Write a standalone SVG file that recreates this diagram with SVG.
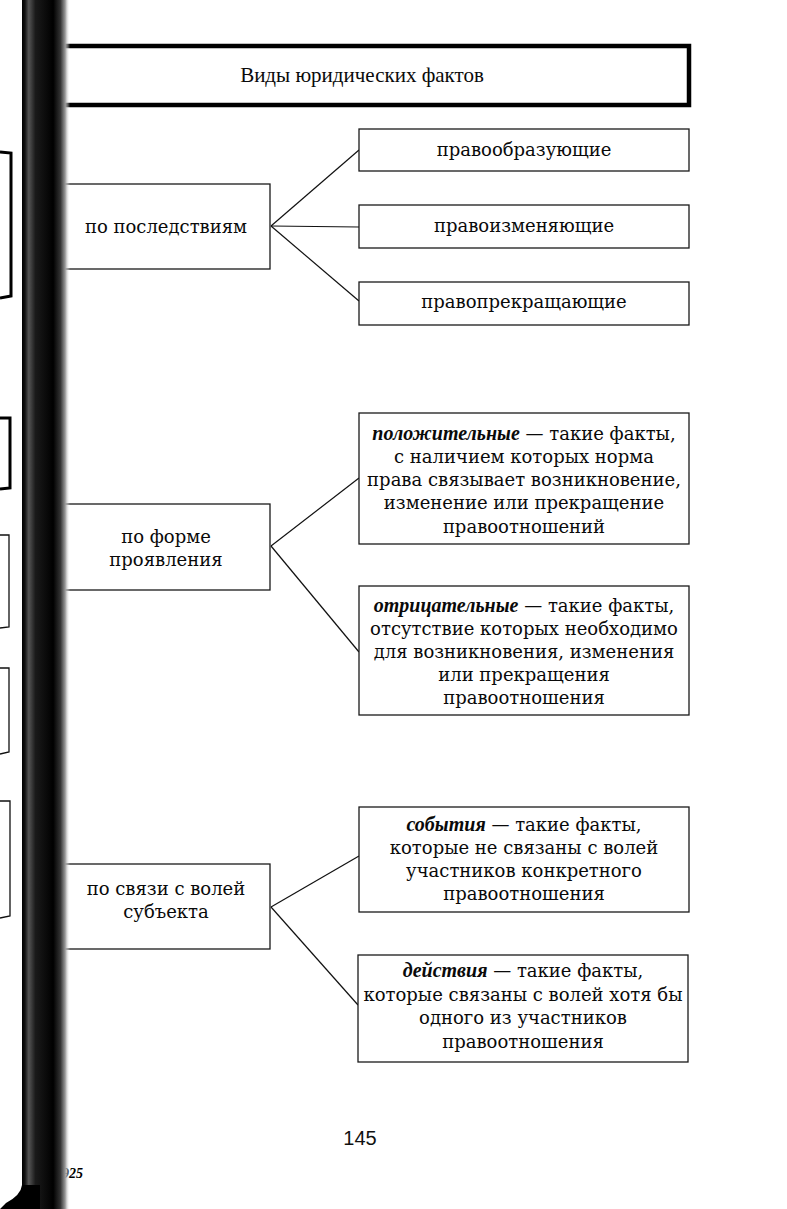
<svg xmlns="http://www.w3.org/2000/svg" width="787" height="1209" viewBox="0 0 787 1209">
<defs>
<linearGradient id="spine" x1="0" y1="0" x2="1" y2="0">
<stop offset="0" stop-color="#000"/>
<stop offset="0.06" stop-color="#111"/>
<stop offset="0.14" stop-color="#555"/>
<stop offset="0.28" stop-color="#1a1a1a"/>
<stop offset="0.65" stop-color="#000"/>
<stop offset="0.8" stop-color="#333"/>
<stop offset="0.9" stop-color="#999"/>
<stop offset="1" stop-color="#fff" stop-opacity="0"/>
</linearGradient>
<style>
.box{fill:#fff;stroke:#1a1a1a;stroke-width:1.3}
.head{fill:#fff;stroke:#000;stroke-width:4.5}
.old{fill:none;stroke:#111;stroke-width:1.3}
.oldthick{fill:none;stroke:#000;stroke-width:3}
.t{font-family:"DejaVu Serif","Liberation Serif",serif;font-size:18px;fill:#0a0a0a;text-anchor:middle}
.title{font-family:"Liberation Serif","DejaVu Serif",serif;font-size:21px;fill:#0a0a0a;text-anchor:middle}
.bi{font-family:"Liberation Serif","DejaVu Serif",serif;font-size:20px;font-weight:bold;font-style:italic}
.num{font-family:"Liberation Sans",Arial,sans-serif;font-size:20px;fill:#111;text-anchor:middle}
.conn line{stroke:#111;stroke-width:1.2}
</style>
</defs>
<rect width="787" height="1209" fill="#fff"/>

<g id="prev-page">
<path class="oldthick" d="M0 152 L11 153 L11 296 L0 298"/>
<path class="oldthick" d="M0 418 L10 418 L10 488 L0 489"/>
<path class="old" d="M0 535 L9 535 L9 627 L0 628"/>
<path class="old" d="M0 668 L9 668 L9 752 L0 754"/>
<path class="old" d="M0 801 L10 801 L10 916 L0 918"/>
</g>

<g id="title">
<rect class="head" x="55" y="46" width="634" height="59"/>
<text class="title" x="362" y="82">Виды юридических фактов</text>
</g>

<g class="conn" id="connectors">
<line x1="271" y1="226" x2="359" y2="150"/>
<line x1="271" y1="226" x2="359" y2="227"/>
<line x1="271" y1="226" x2="359" y2="301"/>
<line x1="271" y1="546" x2="359" y2="478"/>
<line x1="271" y1="546" x2="359" y2="652"/>
<line x1="271" y1="907" x2="359" y2="856"/>
<line x1="271" y1="907" x2="358" y2="1005"/>
</g>

<g id="n-consequences">
<rect class="box" x="55" y="184" width="215" height="85"/>
<text class="t" x="166" y="233">по последствиям</text>
</g>
<g id="n-form">
<rect class="box" x="55" y="504" width="215" height="86"/>
<text class="t" x="166" y="543">по форме</text>
<text class="t" x="166" y="566">проявления</text>
</g>
<g id="n-will">
<rect class="box" x="55" y="864" width="215" height="85"/>
<text class="t" x="166" y="895">по связи с волей</text>
<text class="t" x="166" y="918">субъекта</text>
</g>

<g id="n-create">
<rect class="box" x="359" y="129" width="330" height="42"/>
<text class="t" x="524" y="156">правообразующие</text>
</g>
<g id="n-change">
<rect class="box" x="359" y="205" width="330" height="43"/>
<text class="t" x="524" y="232">правоизменяющие</text>
</g>
<g id="n-stop">
<rect class="box" x="359" y="282" width="330" height="43"/>
<text class="t" x="524" y="308">правопрекращающие</text>
</g>

<g id="n-positive">
<rect class="box" x="359" y="413" width="330" height="131"/>
<text class="t" x="524" y="440"><tspan class="bi">положительные</tspan> — такие факты,</text>
<text class="t" x="524" y="463">с наличием которых норма</text>
<text class="t" x="524" y="486">права связывает возникновение,</text>
<text class="t" x="524" y="509">изменение или прекращение</text>
<text class="t" x="524" y="533">правоотношений</text>
</g>
<g id="n-negative">
<rect class="box" x="359" y="586" width="330" height="129"/>
<text class="t" x="524" y="612"><tspan class="bi">отрицательные</tspan> — такие факты,</text>
<text class="t" x="524" y="635">отсутствие которых необходимо</text>
<text class="t" x="524" y="658">для возникновения, изменения</text>
<text class="t" x="524" y="681">или прекращения</text>
<text class="t" x="524" y="704">правоотношения</text>
</g>

<g id="n-events">
<rect class="box" x="359" y="807" width="330" height="105"/>
<text class="t" x="524" y="831"><tspan class="bi">события</tspan> — такие факты,</text>
<text class="t" x="524" y="854">которые не связаны с волей</text>
<text class="t" x="524" y="877">участников конкретного</text>
<text class="t" x="524" y="900">правоотношения</text>
</g>
<g id="n-actions">
<rect class="box" x="358" y="955" width="330" height="107"/>
<text class="t" x="523" y="977"><tspan class="bi">действия</tspan> — такие факты,</text>
<text class="t" x="523" y="1001">которые связаны с волей хотя бы</text>
<text class="t" x="523" y="1024">одного из участников</text>
<text class="t" x="523" y="1048">правоотношения</text>
</g>

<text x="62" y="1178" font-family="Liberation Serif,serif" font-size="14" font-weight="bold" font-style="italic" fill="#000">925</text>

<g id="spine-shadow">
<rect x="22" y="0" width="48" height="1209" fill="url(#spine)"/>
<path d="M22 1185 Q21 1195 6 1203 L0 1209 L40 1209 L40 1185 Z" fill="#000"/>
</g>

<text class="num" x="360" y="1145">145</text>
</svg>
